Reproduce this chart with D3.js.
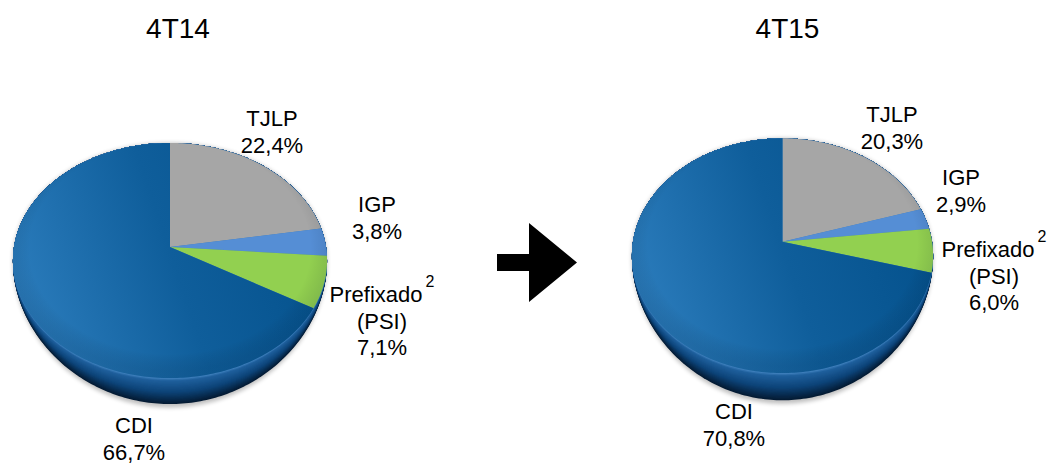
<!DOCTYPE html>
<html>
<head>
<meta charset="utf-8">
<script src="https://cdn.jsdelivr.net/npm/d3@7"></script>
<style>
  html, body { margin: 0; padding: 0; background: #fff; }
  svg { display: block; }
  text { font-family: "Liberation Sans", Arial, Helvetica, sans-serif; fill: #000; }
</style>
</head>
<body>
<svg id="chart" width="1060" height="464"></svg>
<script>
// Funding mix by index, share of total (%)
const categories = ["TJLP", "IGP", "Prefixado", "CDI"];
const periods = ["4T14", "4T15"];
const share4T14 = [22.4, 3.8, 7.1, 66.7];
const share4T15 = [20.3, 2.9, 6.0, 70.8];
const subLabels = ["", "", "(PSI)", ""];
const footnotes = ["", "", "2", ""];

const seriesByPeriod = [share4T14, share4T15];

// Drawing layout: one tilted pie per period
const layout = [
  { cx: 170, cy: 247, rx: 156, ry: 116, k: 0.115, depth: 23, titleX: 178,
    labelPos: [[272, 126], [377, 212], [382, 302], [134, 433]] },
  { cx: 782.5, cy: 241.7, rx: 149.5, ry: 115.7, k: 0.119, depth: 24, titleX: 787.5,
    labelPos: [[892, 122], [961, 185], [994, 257], [734, 419]] }
];
const titleY = 38;
const lineGap = 26.5;
const labelSize = 22;
const sliceFill = ["#a6a6a6", "#558ed5", "#92d050", null];

const svg = d3.select("#chart");
const defs = svg.append("defs");

defs.append("filter").attr("id", "soft-shadow")
  .attr("x", "-20%").attr("y", "-20%").attr("width", "140%").attr("height", "140%")
  .append("feGaussianBlur").attr("stdDeviation", 2);

const fmt = d3.formatLocale({ decimal: ",", thousands: ".", grouping: [3], currency: ["R$", ""] }).format(".1f");

const pie = d3.pie().sort(null).value(d => d);
const line = d3.line().x(d => d[0]).y(d => d[1]).curve(d3.curveLinearClosed);

// rim colour from the face edge (0) down to the base (1)
const rimColor = d3.scaleLinear()
  .domain([0, 0.12, 0.55, 1])
  .range(["#4a8bc8", "#1f609d", "#0d4479", "#041b34"])
  .interpolate(d3.interpolateRgb);

function projector(p) {
  // perspective view of a flat disc: front (v>0) is closer and larger;
  // the side wall only shows toward the front
  return function (theta, r = 1, off = 0) {
    const u = r * Math.sin(theta), v = -r * Math.cos(theta);
    const w = 1 / (1 - p.k * v);
    const wall = Math.pow(Math.max(0, v), 1.4);
    return [p.cx + p.rx * u * w, p.cy + p.ry * v * w + off * wall * w];
  };
}

function outline(proj, off) {
  return line(d3.range(0, 360, 1).map(a => proj(a * Math.PI / 180, 1, off)));
}

function slicePath(proj, d) {
  const pts = [proj(0, 0)];
  const n = Math.max(2, Math.ceil((d.endAngle - d.startAngle) / (Math.PI / 180)));
  for (let i = 0; i <= n; i++) {
    pts.push(proj(d.startAngle + (d.endAngle - d.startAngle) * i / n));
  }
  return line(pts);
}

layout.forEach((p, pi) => {
  const values = seriesByPeriod[pi];
  const proj = projector(p);
  const g = svg.append("g");

  // gradient for the large CDI slice
  const gid = "cdi-grad-" + pi;
  const lg = defs.append("linearGradient").attr("id", gid)
    .attr("gradientUnits", "userSpaceOnUse")
    .attr("x1", p.cx - p.rx).attr("y1", p.cy + p.ry * 0.5)
    .attr("x2", p.cx + p.rx).attr("y2", p.cy - p.ry * 0.4);
  lg.append("stop").attr("offset", 0).attr("stop-color", "#2c7dbd");
  lg.append("stop").attr("offset", 0.5).attr("stop-color", "#0f5e9b");
  lg.append("stop").attr("offset", 1).attr("stop-color", "#03508b");

  const vid = "edge-" + pi;
  const rg = defs.append("radialGradient").attr("id", vid)
    .attr("cx", 0.5).attr("cy", 0.45).attr("r", 0.52);
  rg.append("stop").attr("offset", 0.86).attr("stop-color", "#000").attr("stop-opacity", 0);
  rg.append("stop").attr("offset", 1).attr("stop-color", "#001a33").attr("stop-opacity", 0.12);

  // soft shadow below the base
  g.append("path")
    .attr("d", outline(proj, p.depth + 3))
    .attr("fill", "#000").attr("opacity", 0.25)
    .attr("filter", "url(#soft-shadow)");

  // side wall, stacked from the base up to the face
  g.selectAll("path.rim")
    .data(d3.range(p.depth, 0, -1))
    .join("path")
    .attr("class", "rim")
    .attr("d", i => outline(proj, i))
    .attr("fill", i => rimColor(i / p.depth));

  // face slices
  const arcs = pie(values);
  g.selectAll("path.slice")
    .data(arcs)
    .join("path")
    .attr("class", "slice")
    .attr("d", d => slicePath(proj, d))
    .attr("fill", (d, i) => sliceFill[i] || `url(#${gid})`);

  g.append("path")
    .attr("d", outline(proj, 0))
    .attr("fill", `url(#${vid})`);

  // title
  svg.append("text")
    .attr("x", p.titleX).attr("y", titleY)
    .attr("text-anchor", "middle")
    .attr("font-size", 28)
    .text(periods[pi]);

  // labels
  categories.forEach((name, ci) => {
    const [lx, ly] = p.labelPos[ci];
    const t = svg.append("text")
      .attr("x", lx).attr("y", ly)
      .attr("text-anchor", "middle")
      .attr("font-size", labelSize);
    t.append("tspan").text(name);
    if (footnotes[ci]) {
      t.append("tspan").attr("dx", 3).attr("dy", -15).attr("font-size", 16).text(footnotes[ci]);
    }
    let row = 1;
    if (subLabels[ci]) {
      svg.append("text")
        .attr("x", lx).attr("y", ly + lineGap * row)
        .attr("text-anchor", "middle").attr("font-size", labelSize)
        .text(subLabels[ci]);
      row++;
    }
    svg.append("text")
      .attr("x", lx).attr("y", ly + lineGap * row)
      .attr("text-anchor", "middle").attr("font-size", labelSize)
      .text(fmt(values[ci]) + "%");
  });
});

// transition arrow between the two periods
const arrow = d3.path();
arrow.moveTo(497, 254);
arrow.lineTo(529, 254);
arrow.lineTo(529, 223);
arrow.lineTo(577, 262.5);
arrow.lineTo(529, 302);
arrow.lineTo(529, 271);
arrow.lineTo(497, 271);
arrow.closePath();
svg.append("path").attr("d", arrow.toString()).attr("fill", "#000");
</script>
</body>
</html>
